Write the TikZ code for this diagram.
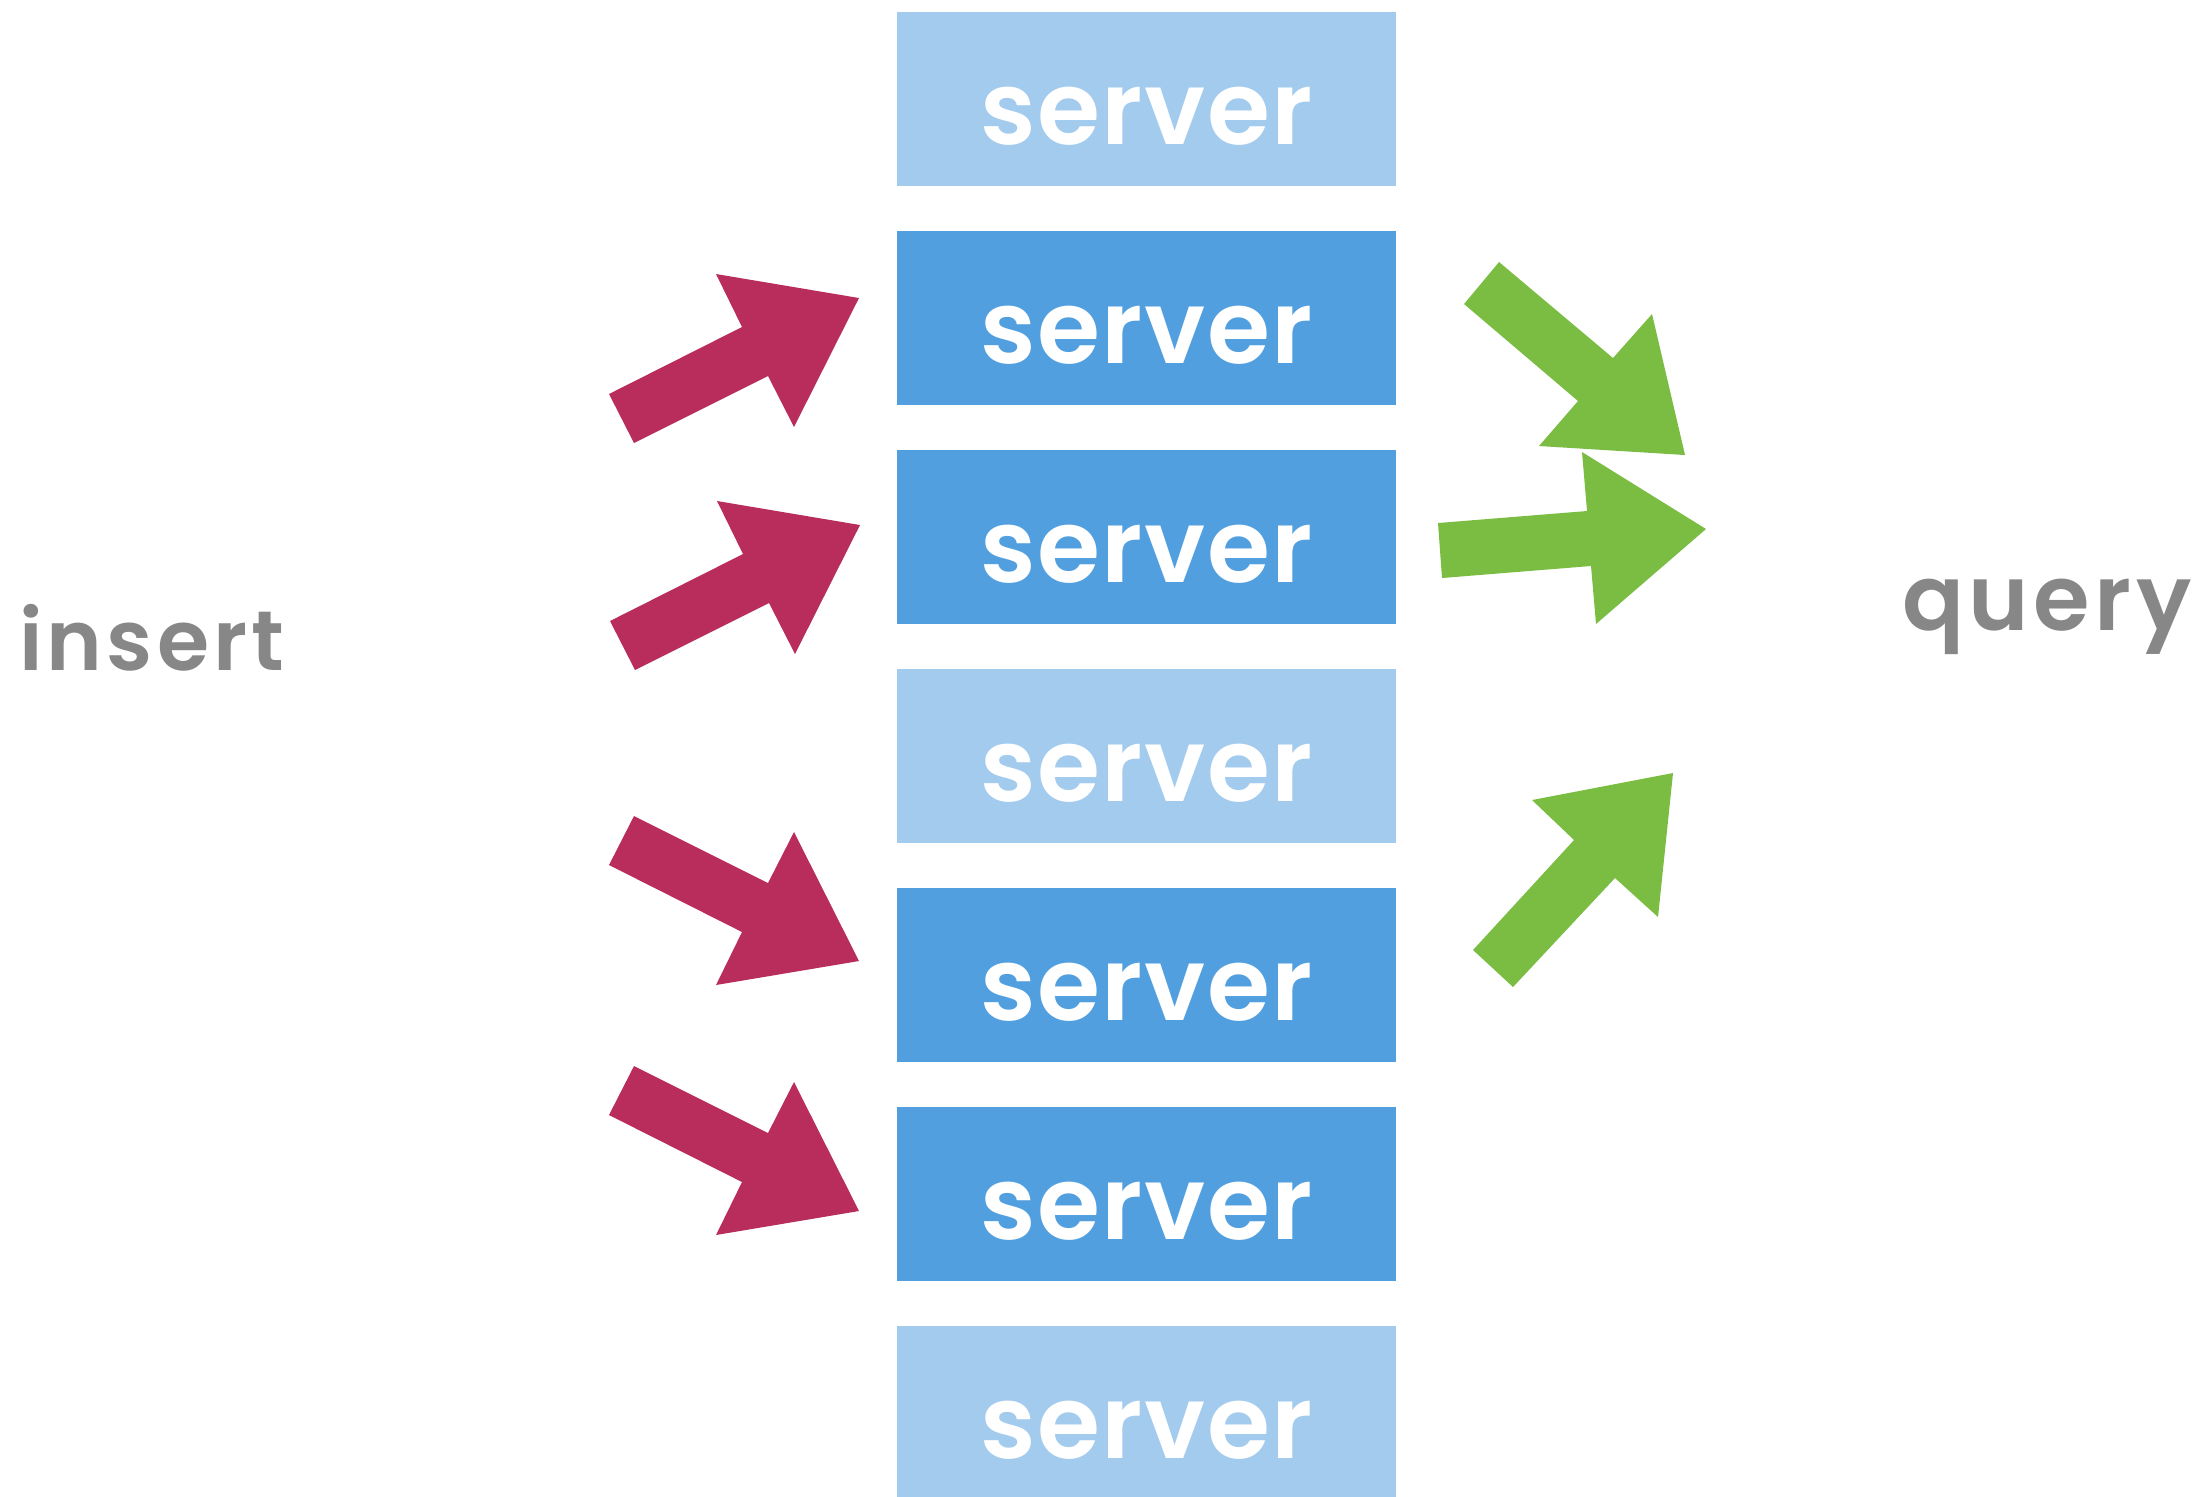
\documentclass[tikz,border=0pt]{standalone}
\usepackage{fontspec}
\setmainfont{Poppins}[BoldFont={Poppins SemiBold}]
\definecolor{srvlight}{HTML}{A2CBEE}
\definecolor{srvdark}{HTML}{519FDF}
\definecolor{insred}{HTML}{B82D5C}
\definecolor{qrygreen}{HTML}{7ABD42}
\definecolor{taggrey}{HTML}{878787}
\tikzset{
  server/.style={fill=#1, minimum width=4.99cm, minimum height=1.73cm,
    inner sep=0pt, text=white, text height=0.9cm, text depth=0cm,
    font=\fontsize{29}{29}\selectfont\bfseries\addfontfeature{LetterSpace=1.5}},
  tagtext/.style={text=taggrey, anchor=base, inner sep=0pt,
    font=\fontsize{#1}{#1}\selectfont\bfseries\addfontfeature{LetterSpace=5}},
  insarrow/.pic={\fill[insred] (-250,96) -- (-117,29) -- (-143,-24) -- (0,0)
    -- (-65,129) -- (-91,78) -- (-225,145) -- cycle;}
}
\begin{document}
\begin{tikzpicture}[x=0.01cm,y=-0.01cm]
  \useasboundingbox (0,0) rectangle (2207,1496);

  % the servers
  \foreach \i/\c in {0/srvlight,1/srvdark,2/srvdark,3/srvlight,4/srvdark,5/srvdark,6/srvlight}
    \node[server=\c] (s\i) at (1146.5,{99+219*\i}) {server};

  \node[tagtext=24] (insert) at (152,670) {insert};
  \node[tagtext=26] (query) at (2047,630) {query};

  % inserts
  \pic at (859,298) {insarrow};
  \pic at (860,525) {insarrow};
  \pic[yscale=-1] at (859,961) {insarrow};
  \pic[yscale=-1] at (859,1211) {insarrow};

  % queries
  \fill[qrygreen] (1499,262) -- (1613,358) -- (1652,314) -- (1685,455)
    -- (1539,446) -- (1578,401) -- (1464,304) -- cycle;
  \fill[qrygreen] (1438,523) -- (1587,511) -- (1582,452) -- (1706,529)
    -- (1596,624) -- (1591,566) -- (1442,578) -- cycle;
  \fill[qrygreen] (1673,773) -- (1532,800) -- (1574,840) -- (1473,950)
    -- (1513,987) -- (1615,878) -- (1658,917) -- cycle;
\end{tikzpicture}
\end{document}
